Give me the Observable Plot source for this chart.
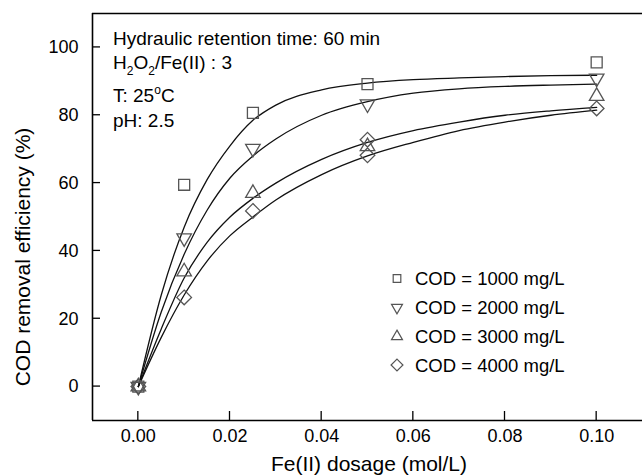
<!DOCTYPE html>
<html><head><meta charset="utf-8">
<script src="https://cdn.jsdelivr.net/npm/d3@7"></script>
<script src="https://cdn.jsdelivr.net/npm/@observablehq/plot@0.6"></script>
<style>body{margin:0;background:#fff}#chart{position:relative;width:642px;height:475px}</style>
</head><body><div id="chart"></div>
<script>
// Measured data
const dosage1000 = [0, 0.01, 0.025, 0.05, 0.1];
const cod1000 = [0, 59.5, 80.7, 89.2, 95.6];
const dosage2000 = [0, 0.01, 0.025, 0.05, 0.1];
const cod2000 = [0, 43.8, 70.2, 83.3, 90.9];
const dosage3000 = [0, 0.01, 0.025, 0.05, 0.1];
const cod3000 = [0, 33.9, 57.0, 70.8, 85.6];
const dosage4000 = [0, 0.01, 0.025, 0.05, 0.05, 0.1];
const cod4000 = [0, 26.3, 51.8, 68.2, 72.8, 82.0];

// Fitted curves
const fitX = [0, 0.005, 0.01, 0.015, 0.02, 0.025, 0.03, 0.04, 0.05, 0.06, 0.07, 0.08, 0.09, 0.1];
const fit1000 = [0, 27, 47, 61, 71, 78.5, 83, 87.5, 89.5, 90.5, 91, 91.4, 91.7, 91.8];
const fit2000 = [0, 22, 39, 52, 61.5, 68, 73, 80, 84, 86.5, 87.8, 88.5, 88.9, 89.2];
const fit3000 = [0, 17, 32, 42.5, 50, 55.5, 60, 67, 72, 75.5, 78, 80, 81.3, 82.3];
const fit4000 = [0, 14.5, 27, 37, 44.5, 50, 55, 62.5, 68, 72, 75.5, 78, 80, 81.5];

const xTicks = [0, 0.02, 0.04, 0.06, 0.08, 0.10];
const yTicks = [0, 20, 40, 60, 80, 100];
const xDomain = [-0.01, 0.11];
const yDomain = [-10, 110];
const legendLabels = ["COD = 1000 mg/L", "COD = 2000 mg/L", "COD = 3000 mg/L", "COD = 4000 mg/L"];

const toPts = (xs, ys) => xs.map((x, i) => ({x, y: ys[i]}));
const fits = [fit1000, fit2000, fit3000, fit4000].flatMap((f, k) => f.map((y, i) => ({x: fitX[i], y, s: k})));

const mk = "#555";
const plot = Plot.plot({
  width: 642, height: 475,
  marginLeft: 92, marginRight: 0, marginTop: 13, marginBottom: 55,
  style: {fontFamily: "'Liberation Sans', Arial, sans-serif", background: "#fff", color: "#000"},
  x: {domain: xDomain},
  y: {domain: yDomain},
  marks: [
    Plot.ruleY([yDomain[0], yDomain[1]], {stroke: "#000", strokeWidth: 1.6}),
    Plot.ruleX([xDomain[0]], {stroke: "#000", strokeWidth: 1.6}),
    Plot.axisX({ticks: xTicks, tickFormat: d3.format(".2f"), tickSize: 0, tickPadding: 9, fontSize: 18, label: null}),
    Plot.axisY({ticks: yTicks, tickSize: 0, tickPadding: 14, fontSize: 18, label: null}),
    Plot.line(fits, {x: "x", y: "y", z: "s", stroke: "#111", strokeWidth: 1.3, curve: "monotone-x"}),
    Plot.dot(toPts(dosage1000, cod1000), {x: "x", y: "y", symbol: "square", r: 6.2, stroke: mk, fill: "none", strokeWidth: 1.3}),
    Plot.dot(toPts(dosage2000, cod2000), {x: "x", y: "y", symbol: "triangle", rotate: 180, r: 5.4, stroke: mk, fill: "none", strokeWidth: 1.3}),
    Plot.dot(toPts(dosage3000, cod3000), {x: "x", y: "y", symbol: "triangle", r: 5.4, stroke: mk, fill: "none", strokeWidth: 1.3}),
    Plot.dot(toPts(dosage4000, cod4000), {x: "x", y: "y", symbol: "diamond2", r: 6.6, stroke: mk, fill: "none", strokeWidth: 1.3})
  ]
});
document.getElementById("chart").appendChild(plot);

const svg = d3.select(plot);
const sx = plot.scale("x"), sy = plot.scale("y");
const F = "'Liberation Sans', Arial, sans-serif";
// inward ticks
const tg = svg.append("g").attr("stroke", "#000").attr("stroke-width", 1.3);
const x0 = sx.apply(xDomain[0]), y0 = sy.apply(yDomain[0]);
xTicks.forEach(t => { const x = sx.apply(t); tg.append("line").attr("x1", x).attr("x2", x).attr("y1", y0).attr("y2", y0 - 9); });
yTicks.forEach(t => { const y = sy.apply(t); tg.append("line").attr("x1", x0).attr("x2", x0 + 8).attr("y1", y).attr("y2", y); });

const g = svg.append("g").attr("font-family", F).attr("fill", "#000").attr("text-anchor", "start");
// annotations
g.append("text").attr("x", 113).attr("y", 45).attr("font-size", 19).text("Hydraulic retention time: 60 min");
const t2 = g.append("text").attr("x", 113).attr("y", 68.5).attr("font-size", 19);
t2.append("tspan").text("H");
t2.append("tspan").attr("font-size", 12).attr("dy", 6).text("2");
t2.append("tspan").attr("dy", -6).text("O");
t2.append("tspan").attr("font-size", 12).attr("dy", 6).text("2");
t2.append("tspan").attr("dy", -6).text("/Fe(II) : 3");
const t3 = g.append("text").attr("x", 113).attr("y", 102).attr("font-size", 19);
t3.append("tspan").text("T: 25");
t3.append("tspan").attr("font-size", 12).attr("dy", -8).text("o");
t3.append("tspan").attr("dy", 8).text("C");
g.append("text").attr("x", 113).attr("y", 127).attr("font-size", 19).text("pH: 2.5");
// axis titles
g.append("text").attr("x", 369).attr("y", 471).attr("font-size", 21).attr("text-anchor", "middle").text("Fe(II) dosage (mol/L)");
g.append("text").attr("transform", "translate(30,257) rotate(-90)").attr("font-size", 21).attr("text-anchor", "middle").text("COD removal efficiency (%)");
// legend
const legSyms = [[d3.symbolSquare, 0, 58], [d3.symbolTriangle, 180, 52], [d3.symbolTriangle, 0, 52], [d3.symbolDiamond2, 0, 90]];
const legY = [278.5, 307.5, 336.5, 365];
legendLabels.forEach((lab, i) => {
  const [sym, rot, size] = legSyms[i];
  g.append("path").attr("d", d3.symbol(sym, size)()).attr("transform", `translate(397,${legY[i]}) rotate(${rot})`)
    .attr("fill", "none").attr("stroke", mk).attr("stroke-width", 1.2);
  g.append("text").attr("x", 415).attr("y", legY[i] + 6.5).attr("font-size", 18.5).text(lab);
});
</script></body></html>
